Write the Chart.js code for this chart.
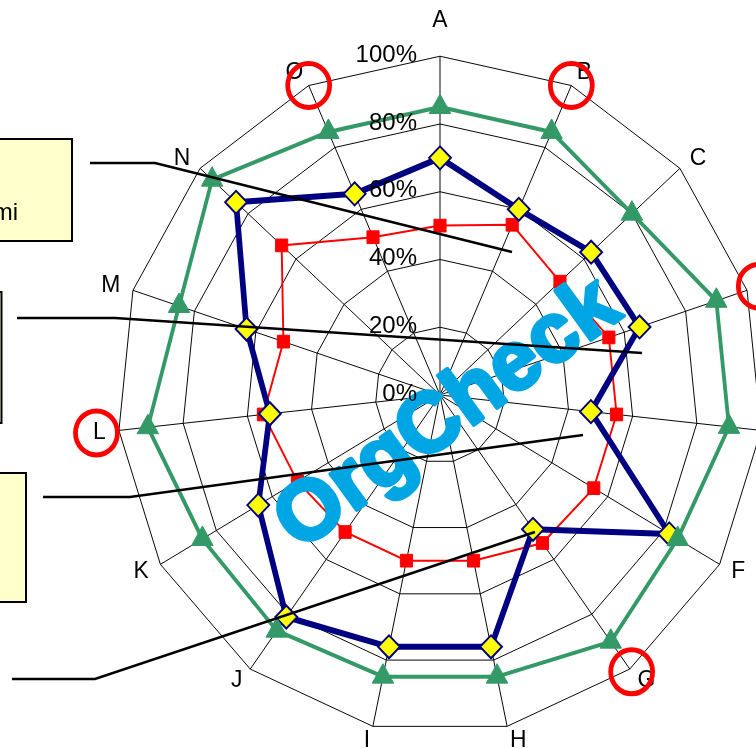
<!DOCTYPE html>
<html>
<head>
<meta charset="utf-8">
<title>Radar</title>
<script src="https://cdn.jsdelivr.net/npm/chart.js@4.4.1/dist/chart.umd.min.js"></script>
<style>
  html, body { margin: 0; padding: 0; background: #fff; overflow: hidden; }
  #wrap { position: relative; width: 756px; height: 749px; overflow: hidden; }
  #chart { position: absolute; left: 0; top: 5px; }
</style>
</head>
<body>
<div id="wrap"><canvas id="chart" width="880" height="750"></canvas></div>
<script>
(function () {
  'use strict';

  var categories = ['A', 'B', 'C', 'D', 'E', 'F', 'G', 'H', 'I', 'J', 'K', 'L', 'M', 'N', 'O'];
  var tickLabels = ['0%', '20%', '40%', '60%', '80%', '100%'];
  var seriesGreen = [85, 85, 80, 90, 90, 85, 90, 85, 85, 86, 85, 91, 85, 95, 85];
  var seriesNavy = [70, 60, 63, 65, 47, 82, 49, 76, 76, 81, 65, 53, 63, 85, 65];
  var seriesRed = [50, 55, 50, 55, 55, 55, 54, 50, 50, 50, 51, 55, 51, 66, 51];
  var highlight = [null, 100, null, 104, null, null, 101, null, null, null, null, 107, null, null, 100];
  var watermark = 'OrgCheck';
  var noteText = 'mi';

  var FONT = '"Liberation Sans", Arial, sans-serif';
  // the original picture is a little narrower than it is tall
  var SQUEEZE = 0.953;
  var CANVAS_TOP = 5;

  // callout boxes and their leader lines (page pixels)
  var noteBoxes = [[-20, 139, 92, 102], [-100, 292, 101.5, 131], [-30, 473, 56, 129]];
  var noteLines = [
    [[90, 163], [155, 163], [512, 252]],
    [[17, 318], [115, 318], [642, 353]],
    [[43, 497], [130, 497], [583, 435]],
    [[12, 679], [95, 679], [535, 532]]
  ];

  var decor = {
    id: 'decor',
    beforeDraw: function (chart) {
      var s = chart.scales.r;
      var ctx = chart.ctx;
      ctx.save();
      ctx.translate(s.xCenter, 0);
      ctx.scale(SQUEEZE, 1);
      ctx.translate(-s.xCenter, 0);
    },
    afterDatasetsDraw: function (chart) {
      var s = chart.scales.r;
      var ctx = chart.ctx;
      var dpr = chart.currentDevicePixelRatio || 1;
      ctx.save();
      ctx.setTransform(dpr, 0, 0, dpr, 0, 0);
      ctx.translate(s.xCenter + 8, s.yCenter + 20);
      ctx.rotate(-36 * Math.PI / 180);
      ctx.font = 'bold 84px ' + FONT;
      ctx.fillStyle = '#00a6e4';
      ctx.strokeStyle = '#00a6e4';
      ctx.lineWidth = 4;
      ctx.lineJoin = 'round';
      ctx.textAlign = 'center';
      ctx.textBaseline = 'middle';
      ctx.fillText(watermark, 0, 0);
      ctx.strokeText(watermark, 0, 0);
      ctx.restore();
    },
    afterDraw: function (chart) {
      var s = chart.scales.r;
      var ctx = chart.ctx;
      ctx.restore();

      ctx.save();
      ctx.font = '24px ' + FONT;
      ctx.fillStyle = '#000';
      ctx.textAlign = 'right';
      ctx.textBaseline = 'middle';
      s.ticks.forEach(function (t, i) {
        ctx.fillText(tickLabels[i], s.xCenter - 23, s.yCenter - s.getDistanceFromCenterForValue(t.value) - 1);
      });

      ctx.translate(0, -CANVAS_TOP);
      ctx.lineWidth = 2;
      ctx.strokeStyle = '#000';
      ctx.fillStyle = '#ffffcc';
      noteBoxes.forEach(function (b) {
        ctx.fillRect(b[0], b[1], b[2], b[3]);
        ctx.strokeRect(b[0], b[1], b[2], b[3]);
      });
      ctx.fillStyle = '#000';
      ctx.textBaseline = 'alphabetic';
      ctx.fillText(noteText, 18, 220);

      ctx.lineWidth = 2.5;
      noteLines.forEach(function (l) {
        ctx.beginPath();
        ctx.moveTo(l[0][0], l[0][1]);
        for (var i = 1; i < l.length; i++) ctx.lineTo(l[i][0], l[i][1]);
        ctx.stroke();
      });
      ctx.restore();
    }
  };

  new Chart(document.getElementById('chart'), {
    type: 'radar',
    data: {
      labels: categories,
      datasets: [
        {
          label: 'highlight',
          data: highlight,
          showLine: false,
          pointStyle: 'circle',
          pointRadius: 22,
          pointBorderWidth: 5,
          pointBorderColor: '#ff0000',
          pointBackgroundColor: 'rgba(0,0,0,0)',
          clip: false
        },
        {
          label: 'green',
          data: seriesGreen,
          fill: false,
          borderColor: '#339966',
          borderWidth: 4,
          borderJoinStyle: 'round',
          pointStyle: 'triangle',
          pointRadius: 13,
          pointBackgroundColor: '#339966',
          pointBorderColor: '#339966',
          pointBorderWidth: 1,
          clip: false
        },
        {
          label: 'navy',
          data: seriesNavy,
          fill: false,
          borderColor: '#000080',
          borderWidth: 6,
          borderJoinStyle: 'round',
          pointStyle: 'rectRot',
          pointRadius: 11.5,
          pointBackgroundColor: '#ffff00',
          pointBorderColor: '#000080',
          pointBorderWidth: 2,
          clip: false
        },
        {
          label: 'red',
          data: seriesRed,
          fill: false,
          borderColor: '#ff0000',
          borderWidth: 2,
          pointStyle: 'rect',
          pointRadius: 9,
          pointBackgroundColor: '#ff0000',
          pointBorderColor: '#ff0000',
          pointBorderWidth: 1,
          clip: false
        }
      ]
    },
    options: {
      responsive: false,
      animation: false,
      events: [],
      layout: { padding: 0 },
      elements: { line: { tension: 0 } },
      plugins: { legend: { display: false }, tooltip: { enabled: false } },
      scales: {
        r: {
          min: 0,
          max: 100,
          ticks: { display: false, stepSize: 20 },
          grid: { color: '#000', lineWidth: 1 },
          angleLines: { color: '#000', lineWidth: 1 },
          pointLabels: {
            color: '#000',
            font: { family: FONT, size: 24, lineHeight: 0.01 },
            padding: function (c) {
              return c.index === 0 ? 36 : 14;
            }
          }
        }
      }
    },
    plugins: [decor]
  });
})();
</script>
</body>
</html>
